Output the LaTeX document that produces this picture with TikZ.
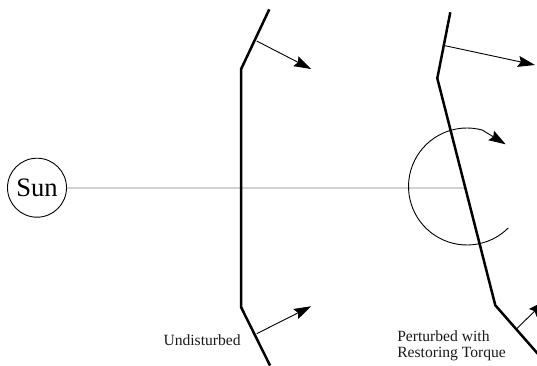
\documentclass[tikz,border=0pt]{standalone}
\usepackage{fontspec}
\setmainfont{Liberation Serif}
\usetikzlibrary{arrows.meta}
\tikzset{
  sail/.style={line width=2.5pt,line join=miter,line cap=butt},
  force/.style={line width=0.9pt,-{Stealth[length=17pt,width=11pt,inset=2.5pt]}},
  beam/.style={line width=1.7pt,draw=black!18},
  label/.style={inner sep=0pt,outer sep=0pt,font=\fontsize{15.6pt}{15.7pt}\selectfont,text=black!90},
  sunbody/.style={circle,draw,line width=0.9pt,minimum size=59pt,inner sep=0pt,font=\fontsize{26.6pt}{28pt}\selectfont}
}
\begin{document}
\begin{tikzpicture}[x=1pt,y=-1pt]
\useasboundingbox (0,0) rectangle (537,366);
\begin{scope}
\clip (0,0) rectangle (537,366);
\node[sunbody] (sun) at (37,187.7) {Sun};
\coordinate (pivot) at (467,187.7);
\draw[beam] (sun.east) -- (pivot);
% undisturbed sail
\coordinate (a1) at (269.3,9.3);
\coordinate (a2) at (241,69.3);
\coordinate (a3) at (241,307);
\coordinate (a4) at (270,365.5);
\draw[sail] (a1) -- (a2) -- (a3) -- (a4);
\coordinate (f1s) at (256.7,41);
\coordinate (f1t) at (311,69);
\coordinate (f2s) at (256.7,333.7);
\coordinate (f2t) at (311,306.3);
\draw[force] (f1s) -- (f1t);
\draw[force] (f2s) -- (f2t);
% perturbed sail
\coordinate (b1) at (450.3,12.3);
\coordinate (b2) at (437.3,78.3);
\coordinate (b3) at (495.3,305.3);
\coordinate (b4) at (545,362);
\draw[sail] (b1) -- (b2) -- (b3) -- (b4);
\coordinate (f3s) at (445,45.7);
\coordinate (f3t) at (535,65);
\coordinate (f4s) at (516.7,328.7);
\coordinate (f4t) at (545,301);
\draw[force] (f3s) -- (f3t);
\draw[force] (f4s) -- (f4t);
% restoring torque
\coordinate (tq) at (505.7,144.3);
\draw[force] plot[domain=45:285,samples=50] ({467+58.5*cos(\x)},{186.5+58.5*sin(\x)}) -- (tq);
\end{scope}
\node[label,anchor=base west] (und) at (163.5,345.3) {Undisturbed};
\node[label,anchor=base west] (per1) at (397.3,341.3) {Perturbed with};
\node[label,anchor=base west] (per2) at (397.3,357) {Restoring Torque};
\end{tikzpicture}
\end{document}
